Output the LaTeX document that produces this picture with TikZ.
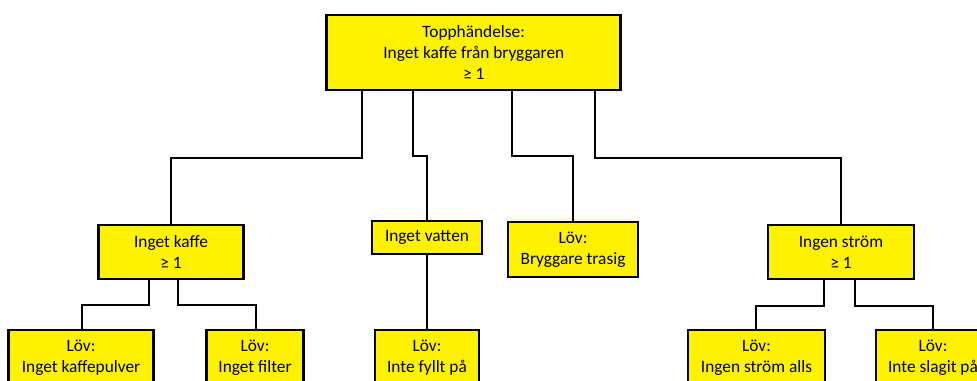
\documentclass[tikz,border=0pt]{standalone}
\usepackage{fontspec}
\setmainfont{Carlito}
\begin{document}
\begin{tikzpicture}[x=0.75pt,y=-0.75pt,
  box/.style={draw=black,line width=1.9pt,fill=yellow,align=center,inner sep=0pt,
    font=\fontsize{13}{15.5}\selectfont},
  conn/.style={draw=black,line width=1.6pt}]
\useasboundingbox (0,0) rectangle (977,381);
\clip (0,0) rectangle (977,381);
\node[box,minimum width=294*0.75pt,minimum height=75*0.75pt] (top) at (473.75,52.5) {Topphändelse:\\Inget kaffe från bryggaren\\≥ 1};
\node[box,minimum width=145*0.75pt,minimum height=54*0.75pt] (kaffe) at (171,252) {Inget kaffe\\≥ 1};
\node[box,minimum width=110*0.75pt,minimum height=33*0.75pt] (vatten) at (427,237.5) {Inget vatten};
\node[box,minimum width=130*0.75pt,minimum height=55*0.75pt] (bryg) at (573,249.5) {Löv:\\Bryggare trasig};
\node[box,minimum width=146*0.75pt,minimum height=54*0.75pt] (strom) at (841,252) {Ingen ström\\≥ 1};
\node[box,minimum width=145*0.75pt,minimum height=55*0.75pt] (l1) at (81,357.5) {Löv:\\Inget kaffepulver};
\node[box,minimum width=97*0.75pt,minimum height=55*0.75pt] (l2) at (255,357.5) {Löv:\\Inget filter};
\node[box,minimum width=104*0.75pt,minimum height=55*0.75pt] (l3) at (427,357.5) {Löv:\\Inte fyllt på};
\node[box,minimum width=137*0.75pt,minimum height=55*0.75pt] (l4) at (756.5,357.5) {Löv:\\Ingen ström alls};
\node[box,minimum width=114*0.75pt,minimum height=55*0.75pt] (l5) at (933,357.5) {Löv:\\Inte slagit på};
% connectors from top
\draw[conn] (top.south -| 362,0) -- (362,158) -| (kaffe.north);
\draw[conn] (top.south -| 413,0) -- (413,156) -| (vatten.north);
\draw[conn] (top.south -| 512,0) -- (512,156) -| (bryg.north);
\draw[conn] (top.south -| 595,0) -- (595,158) -| (strom.north);
% children of Inget kaffe
\draw[conn] (kaffe.south -| 149,0) -- (149,305) -- (82,305) -- (l1.north -| 82,0);
\draw[conn] (kaffe.south -| 178,0) -- (178,305) -- (256,305) -- (l2.north -| 256,0);
% Inget vatten
\draw[conn] (vatten.south) -- (l3.north);
% children of Ingen strom
\draw[conn] (strom.south -| 824,0) -- (824,306) -- (756,306) -- (l4.north -| 756,0);
\draw[conn] (strom.south -| 855,0) -- (855,306) -| (l5.north);
\end{tikzpicture}
\end{document}
